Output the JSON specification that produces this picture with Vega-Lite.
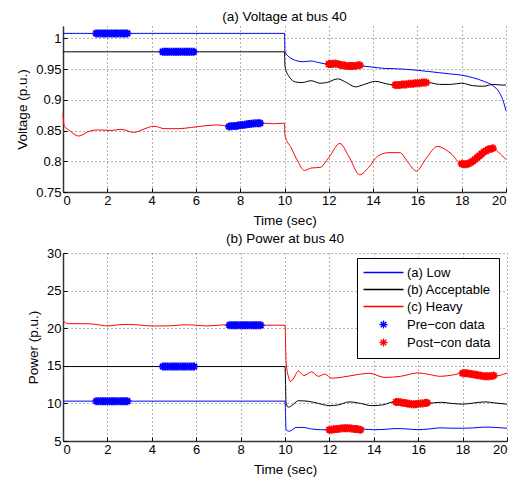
{
  "$schema": "https://vega.github.io/schema/vega-lite/v6.json",
  "padding": {"left": 15, "top": 9, "right": 8, "bottom": 3},
  "spacing": 4,
  "config": {
    "font": "Liberation Sans",
    "view": {"stroke": null},
    "axis": {
      "labelFont": "Liberation Sans", "titleFont": "Liberation Sans",
      "labelFontSize": 13, "titleFontSize": 13.5, "titleFontWeight": "normal",
      "labelColor": "#000", "titleColor": "#000", "domainColor": "#333", "tickColor": "#000",
      "domainWidth": 1.5, "tickSize": -4, "labelPadding": 6, "titlePadding": 6, "labelOverlap": false, "tickCount": 20,
      "gridColor": "#000", "gridDash": [1, 3], "gridOpacity": 0.6
    },
    "title": {"font": "Liberation Sans", "fontSize": 13.5, "fontWeight": "normal", "color": "#000", "offset": 2},
    "legend": {"labelFont": "Liberation Sans", "labelFontSize": 13, "labelColor": "#000"}
  },
  "datasets": {
    "volt": [
      {"t": 0, "v": 1.008, "series": "(a) Low"}, {"t": 10, "v": 1.008, "series": "(a) Low"}, {"t": 10.02, "v": 0.978, "series": "(a) Low"}, {"t": 10.2, "v": 0.970, "series": "(a) Low"}, {"t": 10.5, "v": 0.964, "series": "(a) Low"}, {"t": 10.8, "v": 0.962, "series": "(a) Low"}, {"t": 11.2, "v": 0.963, "series": "(a) Low"}, {"t": 11.6, "v": 0.960, "series": "(a) Low"}, {"t": 12, "v": 0.958, "series": "(a) Low"}, {"t": 12.5, "v": 0.958, "series": "(a) Low"}, {"t": 13, "v": 0.956, "series": "(a) Low"}, {"t": 13.5, "v": 0.955, "series": "(a) Low"}, {"t": 14, "v": 0.953, "series": "(a) Low"}, {"t": 14.5, "v": 0.951, "series": "(a) Low"}, {"t": 15, "v": 0.9505, "series": "(a) Low"}, {"t": 15.5, "v": 0.9495, "series": "(a) Low"}, {"t": 16, "v": 0.948, "series": "(a) Low"}, {"t": 16.5, "v": 0.946, "series": "(a) Low"}, {"t": 17, "v": 0.944, "series": "(a) Low"}, {"t": 17.5, "v": 0.942, "series": "(a) Low"}, {"t": 18, "v": 0.940, "series": "(a) Low"}, {"t": 18.5, "v": 0.936, "series": "(a) Low"}, {"t": 19, "v": 0.930, "series": "(a) Low"}, {"t": 19.4, "v": 0.923, "series": "(a) Low"}, {"t": 19.7, "v": 0.912, "series": "(a) Low"}, {"t": 19.9, "v": 0.895, "series": "(a) Low"}, {"t": 20, "v": 0.882, "series": "(a) Low"},
      {"t": 0, "v": 0.978, "series": "(b) Acceptable"}, {"t": 10, "v": 0.978, "series": "(b) Acceptable"}, {"t": 10.02, "v": 0.955, "series": "(b) Acceptable"}, {"t": 10.2, "v": 0.938, "series": "(b) Acceptable"}, {"t": 10.5, "v": 0.929, "series": "(b) Acceptable"}, {"t": 10.8, "v": 0.928, "series": "(b) Acceptable"}, {"t": 11.2, "v": 0.931, "series": "(b) Acceptable"}, {"t": 11.6, "v": 0.927, "series": "(b) Acceptable"}, {"t": 11.9, "v": 0.928, "series": "(b) Acceptable"}, {"t": 12.4, "v": 0.934, "series": "(b) Acceptable"}, {"t": 12.8, "v": 0.928, "series": "(b) Acceptable"}, {"t": 13.2, "v": 0.921, "series": "(b) Acceptable"}, {"t": 13.6, "v": 0.925, "series": "(b) Acceptable"}, {"t": 14.1, "v": 0.930, "series": "(b) Acceptable"}, {"t": 14.6, "v": 0.926, "series": "(b) Acceptable"}, {"t": 15, "v": 0.924, "series": "(b) Acceptable"}, {"t": 15.5, "v": 0.925, "series": "(b) Acceptable"}, {"t": 16, "v": 0.926, "series": "(b) Acceptable"}, {"t": 16.5, "v": 0.928, "series": "(b) Acceptable"}, {"t": 17, "v": 0.925, "series": "(b) Acceptable"}, {"t": 17.5, "v": 0.925, "series": "(b) Acceptable"}, {"t": 18, "v": 0.927, "series": "(b) Acceptable"}, {"t": 18.5, "v": 0.923, "series": "(b) Acceptable"}, {"t": 19, "v": 0.922, "series": "(b) Acceptable"}, {"t": 19.4, "v": 0.925, "series": "(b) Acceptable"}, {"t": 19.8, "v": 0.924, "series": "(b) Acceptable"}, {"t": 20, "v": 0.924, "series": "(b) Acceptable"},
      {"t": 0, "v": 0.878, "series": "(c) Heavy"}, {"t": 0.05, "v": 0.858, "series": "(c) Heavy"}, {"t": 0.3, "v": 0.850, "series": "(c) Heavy"}, {"t": 0.7, "v": 0.841, "series": "(c) Heavy"}, {"t": 1.2, "v": 0.849, "series": "(c) Heavy"}, {"t": 1.6, "v": 0.851, "series": "(c) Heavy"}, {"t": 2.2, "v": 0.850, "series": "(c) Heavy"}, {"t": 2.6, "v": 0.852, "series": "(c) Heavy"}, {"t": 3.2, "v": 0.847, "series": "(c) Heavy"}, {"t": 3.7, "v": 0.853, "series": "(c) Heavy"}, {"t": 4.1, "v": 0.857, "series": "(c) Heavy"}, {"t": 4.6, "v": 0.853, "series": "(c) Heavy"}, {"t": 5.2, "v": 0.853, "series": "(c) Heavy"}, {"t": 5.8, "v": 0.855, "series": "(c) Heavy"}, {"t": 6.5, "v": 0.858, "series": "(c) Heavy"}, {"t": 7, "v": 0.859, "series": "(c) Heavy"}, {"t": 7.5, "v": 0.857, "series": "(c) Heavy"}, {"t": 8, "v": 0.858, "series": "(c) Heavy"}, {"t": 8.5, "v": 0.861, "series": "(c) Heavy"}, {"t": 9, "v": 0.862, "series": "(c) Heavy"}, {"t": 9.5, "v": 0.861, "series": "(c) Heavy"}, {"t": 10, "v": 0.862, "series": "(c) Heavy"}, {"t": 10.02, "v": 0.842, "series": "(c) Heavy"}, {"t": 10.3, "v": 0.822, "series": "(c) Heavy"}, {"t": 10.6, "v": 0.800, "series": "(c) Heavy"}, {"t": 10.9, "v": 0.785, "series": "(c) Heavy"}, {"t": 11.2, "v": 0.789, "series": "(c) Heavy"}, {"t": 11.6, "v": 0.790, "series": "(c) Heavy"}, {"t": 12, "v": 0.806, "series": "(c) Heavy"}, {"t": 12.5, "v": 0.829, "series": "(c) Heavy"}, {"t": 12.9, "v": 0.808, "series": "(c) Heavy"}, {"t": 13.4, "v": 0.778, "series": "(c) Heavy"}, {"t": 13.8, "v": 0.790, "series": "(c) Heavy"}, {"t": 14.2, "v": 0.808, "series": "(c) Heavy"}, {"t": 14.7, "v": 0.814, "series": "(c) Heavy"}, {"t": 15.2, "v": 0.814, "series": "(c) Heavy"}, {"t": 15.6, "v": 0.797, "series": "(c) Heavy"}, {"t": 15.95, "v": 0.784, "series": "(c) Heavy"}, {"t": 16.4, "v": 0.805, "series": "(c) Heavy"}, {"t": 16.9, "v": 0.824, "series": "(c) Heavy"}, {"t": 17.5, "v": 0.813, "series": "(c) Heavy"}, {"t": 18, "v": 0.796, "series": "(c) Heavy"}, {"t": 18.5, "v": 0.800, "series": "(c) Heavy"}, {"t": 19, "v": 0.815, "series": "(c) Heavy"}, {"t": 19.4, "v": 0.821, "series": "(c) Heavy"}, {"t": 19.8, "v": 0.810, "series": "(c) Heavy"}, {"t": 20, "v": 0.803, "series": "(c) Heavy"}
    ],
    "voltpts": [
      {"t": 1.5, "v": 1.008, "series": "Pre−con data"}, {"t": 1.6, "v": 1.008, "series": "Pre−con data"}, {"t": 1.7, "v": 1.008, "series": "Pre−con data"}, {"t": 1.8, "v": 1.008, "series": "Pre−con data"}, {"t": 1.9, "v": 1.008, "series": "Pre−con data"}, {"t": 2.0, "v": 1.008, "series": "Pre−con data"}, {"t": 2.1, "v": 1.008, "series": "Pre−con data"}, {"t": 2.2, "v": 1.008, "series": "Pre−con data"}, {"t": 2.3, "v": 1.008, "series": "Pre−con data"}, {"t": 2.4, "v": 1.008, "series": "Pre−con data"}, {"t": 2.5, "v": 1.008, "series": "Pre−con data"}, {"t": 2.6, "v": 1.008, "series": "Pre−con data"}, {"t": 2.7, "v": 1.008, "series": "Pre−con data"}, {"t": 2.8, "v": 1.008, "series": "Pre−con data"}, {"t": 2.9, "v": 1.008, "series": "Pre−con data"},
      {"t": 4.5, "v": 0.978, "series": "Pre−con data"}, {"t": 4.6, "v": 0.978, "series": "Pre−con data"}, {"t": 4.7, "v": 0.978, "series": "Pre−con data"}, {"t": 4.8, "v": 0.978, "series": "Pre−con data"}, {"t": 4.9, "v": 0.978, "series": "Pre−con data"}, {"t": 5.0, "v": 0.978, "series": "Pre−con data"}, {"t": 5.1, "v": 0.978, "series": "Pre−con data"}, {"t": 5.2, "v": 0.978, "series": "Pre−con data"}, {"t": 5.3, "v": 0.978, "series": "Pre−con data"}, {"t": 5.4, "v": 0.978, "series": "Pre−con data"}, {"t": 5.5, "v": 0.978, "series": "Pre−con data"}, {"t": 5.6, "v": 0.978, "series": "Pre−con data"}, {"t": 5.7, "v": 0.978, "series": "Pre−con data"}, {"t": 5.8, "v": 0.978, "series": "Pre−con data"}, {"t": 5.9, "v": 0.978, "series": "Pre−con data"},
      {"t": 7.5, "v": 0.8565, "series": "Pre−con data"}, {"t": 7.6, "v": 0.857, "series": "Pre−con data"}, {"t": 7.7, "v": 0.8572, "series": "Pre−con data"}, {"t": 7.8, "v": 0.8575, "series": "Pre−con data"}, {"t": 7.9, "v": 0.858, "series": "Pre−con data"}, {"t": 8.0, "v": 0.8585, "series": "Pre−con data"}, {"t": 8.1, "v": 0.859, "series": "Pre−con data"}, {"t": 8.2, "v": 0.8595, "series": "Pre−con data"}, {"t": 8.3, "v": 0.860, "series": "Pre−con data"}, {"t": 8.4, "v": 0.8605, "series": "Pre−con data"}, {"t": 8.5, "v": 0.861, "series": "Pre−con data"}, {"t": 8.6, "v": 0.8615, "series": "Pre−con data"}, {"t": 8.7, "v": 0.862, "series": "Pre−con data"}, {"t": 8.8, "v": 0.862, "series": "Pre−con data"}, {"t": 8.9, "v": 0.862, "series": "Pre−con data"},
      {"t": 12.0, "v": 0.958, "series": "Post−con data"}, {"t": 12.1, "v": 0.958, "series": "Post−con data"}, {"t": 12.2, "v": 0.9585, "series": "Post−con data"}, {"t": 12.3, "v": 0.959, "series": "Post−con data"}, {"t": 12.4, "v": 0.958, "series": "Post−con data"}, {"t": 12.5, "v": 0.957, "series": "Post−con data"}, {"t": 12.6, "v": 0.956, "series": "Post−con data"}, {"t": 12.7, "v": 0.956, "series": "Post−con data"}, {"t": 12.8, "v": 0.955, "series": "Post−con data"}, {"t": 12.9, "v": 0.955, "series": "Post−con data"}, {"t": 13.0, "v": 0.955, "series": "Post−con data"}, {"t": 13.1, "v": 0.955, "series": "Post−con data"}, {"t": 13.2, "v": 0.955, "series": "Post−con data"}, {"t": 13.3, "v": 0.956, "series": "Post−con data"}, {"t": 13.4, "v": 0.956, "series": "Post−con data"},
      {"t": 15.0, "v": 0.924, "series": "Post−con data"}, {"t": 15.1, "v": 0.924, "series": "Post−con data"}, {"t": 15.2, "v": 0.924, "series": "Post−con data"}, {"t": 15.3, "v": 0.925, "series": "Post−con data"}, {"t": 15.4, "v": 0.925, "series": "Post−con data"}, {"t": 15.5, "v": 0.925, "series": "Post−con data"}, {"t": 15.6, "v": 0.926, "series": "Post−con data"}, {"t": 15.7, "v": 0.926, "series": "Post−con data"}, {"t": 15.8, "v": 0.926, "series": "Post−con data"}, {"t": 15.9, "v": 0.927, "series": "Post−con data"}, {"t": 16.0, "v": 0.927, "series": "Post−con data"}, {"t": 16.1, "v": 0.927, "series": "Post−con data"}, {"t": 16.2, "v": 0.928, "series": "Post−con data"}, {"t": 16.3, "v": 0.928, "series": "Post−con data"}, {"t": 16.4, "v": 0.928, "series": "Post−con data"},
      {"t": 18.0, "v": 0.796, "series": "Post−con data"}, {"t": 18.1, "v": 0.795, "series": "Post−con data"}, {"t": 18.2, "v": 0.795, "series": "Post−con data"}, {"t": 18.3, "v": 0.796, "series": "Post−con data"}, {"t": 18.4, "v": 0.798, "series": "Post−con data"}, {"t": 18.5, "v": 0.800, "series": "Post−con data"}, {"t": 18.6, "v": 0.803, "series": "Post−con data"}, {"t": 18.7, "v": 0.806, "series": "Post−con data"}, {"t": 18.8, "v": 0.809, "series": "Post−con data"}, {"t": 18.9, "v": 0.812, "series": "Post−con data"}, {"t": 19.0, "v": 0.815, "series": "Post−con data"}, {"t": 19.1, "v": 0.817, "series": "Post−con data"}, {"t": 19.2, "v": 0.819, "series": "Post−con data"}, {"t": 19.3, "v": 0.820, "series": "Post−con data"}, {"t": 19.4, "v": 0.821, "series": "Post−con data"}
    ],
    "pow": [
      {"t": 0, "p": 10.3, "series": "(a) Low"}, {"t": 10, "p": 10.3, "series": "(a) Low"}, {"t": 10.05, "p": 6.5, "series": "(a) Low"}, {"t": 10.2, "p": 6.3, "series": "(a) Low"}, {"t": 10.5, "p": 6.8, "series": "(a) Low"}, {"t": 10.8, "p": 6.8, "series": "(a) Low"}, {"t": 11.2, "p": 6.6, "series": "(a) Low"}, {"t": 11.6, "p": 6.5, "series": "(a) Low"}, {"t": 12, "p": 6.5, "series": "(a) Low"}, {"t": 12.5, "p": 6.6, "series": "(a) Low"}, {"t": 13, "p": 6.7, "series": "(a) Low"}, {"t": 13.5, "p": 6.6, "series": "(a) Low"}, {"t": 14, "p": 6.5, "series": "(a) Low"}, {"t": 14.5, "p": 6.55, "series": "(a) Low"}, {"t": 15, "p": 6.65, "series": "(a) Low"}, {"t": 15.5, "p": 6.6, "series": "(a) Low"}, {"t": 16, "p": 6.5, "series": "(a) Low"}, {"t": 16.5, "p": 6.6, "series": "(a) Low"}, {"t": 17, "p": 6.75, "series": "(a) Low"}, {"t": 17.5, "p": 6.7, "series": "(a) Low"}, {"t": 18, "p": 6.7, "series": "(a) Low"}, {"t": 18.5, "p": 6.75, "series": "(a) Low"}, {"t": 19, "p": 6.85, "series": "(a) Low"}, {"t": 19.5, "p": 6.8, "series": "(a) Low"}, {"t": 20, "p": 6.7, "series": "(a) Low"},
      {"t": 0, "p": 14.9, "series": "(b) Acceptable"}, {"t": 10, "p": 14.9, "series": "(b) Acceptable"}, {"t": 10.05, "p": 10.0, "series": "(b) Acceptable"}, {"t": 10.15, "p": 9.5, "series": "(b) Acceptable"}, {"t": 10.3, "p": 9.7, "series": "(b) Acceptable"}, {"t": 10.6, "p": 10.35, "series": "(b) Acceptable"}, {"t": 11, "p": 10.3, "series": "(b) Acceptable"}, {"t": 11.5, "p": 10.0, "series": "(b) Acceptable"}, {"t": 12, "p": 9.7, "series": "(b) Acceptable"}, {"t": 12.4, "p": 9.8, "series": "(b) Acceptable"}, {"t": 12.9, "p": 10.2, "series": "(b) Acceptable"}, {"t": 13.4, "p": 10.0, "series": "(b) Acceptable"}, {"t": 13.9, "p": 9.7, "series": "(b) Acceptable"}, {"t": 14.4, "p": 9.8, "series": "(b) Acceptable"}, {"t": 14.9, "p": 10.2, "series": "(b) Acceptable"}, {"t": 15.5, "p": 10.0, "series": "(b) Acceptable"}, {"t": 16, "p": 9.85, "series": "(b) Acceptable"}, {"t": 16.5, "p": 10.0, "series": "(b) Acceptable"}, {"t": 17, "p": 10.15, "series": "(b) Acceptable"}, {"t": 17.5, "p": 10.0, "series": "(b) Acceptable"}, {"t": 18, "p": 9.9, "series": "(b) Acceptable"}, {"t": 18.5, "p": 10.05, "series": "(b) Acceptable"}, {"t": 19, "p": 10.2, "series": "(b) Acceptable"}, {"t": 19.5, "p": 10.05, "series": "(b) Acceptable"}, {"t": 20, "p": 9.9, "series": "(b) Acceptable"},
      {"t": 0, "p": 21.2, "series": "(c) Heavy"}, {"t": 0.1, "p": 20.7, "series": "(c) Heavy"}, {"t": 0.3, "p": 20.6, "series": "(c) Heavy"}, {"t": 1, "p": 20.6, "series": "(c) Heavy"}, {"t": 1.5, "p": 20.5, "series": "(c) Heavy"}, {"t": 2, "p": 20.3, "series": "(c) Heavy"}, {"t": 2.5, "p": 20.45, "series": "(c) Heavy"}, {"t": 3, "p": 20.5, "series": "(c) Heavy"}, {"t": 3.5, "p": 20.4, "series": "(c) Heavy"}, {"t": 4, "p": 20.3, "series": "(c) Heavy"}, {"t": 4.5, "p": 20.3, "series": "(c) Heavy"}, {"t": 5, "p": 20.35, "series": "(c) Heavy"}, {"t": 5.5, "p": 20.45, "series": "(c) Heavy"}, {"t": 6, "p": 20.4, "series": "(c) Heavy"}, {"t": 6.5, "p": 20.3, "series": "(c) Heavy"}, {"t": 7, "p": 20.4, "series": "(c) Heavy"}, {"t": 7.5, "p": 20.45, "series": "(c) Heavy"}, {"t": 8.5, "p": 20.4, "series": "(c) Heavy"}, {"t": 9, "p": 20.4, "series": "(c) Heavy"}, {"t": 10, "p": 20.4, "series": "(c) Heavy"}, {"t": 10.05, "p": 15.5, "series": "(c) Heavy"}, {"t": 10.15, "p": 13.6, "series": "(c) Heavy"}, {"t": 10.25, "p": 12.9, "series": "(c) Heavy"}, {"t": 10.4, "p": 13.4, "series": "(c) Heavy"}, {"t": 10.6, "p": 14.3, "series": "(c) Heavy"}, {"t": 10.85, "p": 13.7, "series": "(c) Heavy"}, {"t": 11.2, "p": 14.2, "series": "(c) Heavy"}, {"t": 11.5, "p": 13.6, "series": "(c) Heavy"}, {"t": 11.8, "p": 13.9, "series": "(c) Heavy"}, {"t": 12.1, "p": 13.35, "series": "(c) Heavy"}, {"t": 12.6, "p": 13.5, "series": "(c) Heavy"}, {"t": 13.2, "p": 13.8, "series": "(c) Heavy"}, {"t": 13.8, "p": 14.0, "series": "(c) Heavy"}, {"t": 14.5, "p": 13.45, "series": "(c) Heavy"}, {"t": 15.2, "p": 13.6, "series": "(c) Heavy"}, {"t": 16, "p": 14.05, "series": "(c) Heavy"}, {"t": 16.5, "p": 13.85, "series": "(c) Heavy"}, {"t": 17, "p": 13.6, "series": "(c) Heavy"}, {"t": 17.5, "p": 13.75, "series": "(c) Heavy"}, {"t": 18, "p": 14.0, "series": "(c) Heavy"}, {"t": 18.7, "p": 13.8, "series": "(c) Heavy"}, {"t": 19.4, "p": 13.6, "series": "(c) Heavy"}, {"t": 20, "p": 14.05, "series": "(c) Heavy"}
    ],
    "powpts": [
      {"t": 1.5, "p": 10.3, "series": "Pre−con data"}, {"t": 1.6, "p": 10.3, "series": "Pre−con data"}, {"t": 1.7, "p": 10.3, "series": "Pre−con data"}, {"t": 1.8, "p": 10.3, "series": "Pre−con data"}, {"t": 1.9, "p": 10.3, "series": "Pre−con data"}, {"t": 2.0, "p": 10.3, "series": "Pre−con data"}, {"t": 2.1, "p": 10.3, "series": "Pre−con data"}, {"t": 2.2, "p": 10.3, "series": "Pre−con data"}, {"t": 2.3, "p": 10.3, "series": "Pre−con data"}, {"t": 2.4, "p": 10.3, "series": "Pre−con data"}, {"t": 2.5, "p": 10.3, "series": "Pre−con data"}, {"t": 2.6, "p": 10.3, "series": "Pre−con data"}, {"t": 2.7, "p": 10.3, "series": "Pre−con data"}, {"t": 2.8, "p": 10.3, "series": "Pre−con data"}, {"t": 2.9, "p": 10.3, "series": "Pre−con data"},
      {"t": 4.5, "p": 14.9, "series": "Pre−con data"}, {"t": 4.6, "p": 14.9, "series": "Pre−con data"}, {"t": 4.7, "p": 14.9, "series": "Pre−con data"}, {"t": 4.8, "p": 14.9, "series": "Pre−con data"}, {"t": 4.9, "p": 14.9, "series": "Pre−con data"}, {"t": 5.0, "p": 14.9, "series": "Pre−con data"}, {"t": 5.1, "p": 14.9, "series": "Pre−con data"}, {"t": 5.2, "p": 14.9, "series": "Pre−con data"}, {"t": 5.3, "p": 14.9, "series": "Pre−con data"}, {"t": 5.4, "p": 14.9, "series": "Pre−con data"}, {"t": 5.5, "p": 14.9, "series": "Pre−con data"}, {"t": 5.6, "p": 14.9, "series": "Pre−con data"}, {"t": 5.7, "p": 14.9, "series": "Pre−con data"}, {"t": 5.8, "p": 14.9, "series": "Pre−con data"}, {"t": 5.9, "p": 14.9, "series": "Pre−con data"},
      {"t": 7.5, "p": 20.4, "series": "Pre−con data"}, {"t": 7.6, "p": 20.4, "series": "Pre−con data"}, {"t": 7.7, "p": 20.4, "series": "Pre−con data"}, {"t": 7.8, "p": 20.4, "series": "Pre−con data"}, {"t": 7.9, "p": 20.4, "series": "Pre−con data"}, {"t": 8.0, "p": 20.4, "series": "Pre−con data"}, {"t": 8.1, "p": 20.4, "series": "Pre−con data"}, {"t": 8.2, "p": 20.4, "series": "Pre−con data"}, {"t": 8.3, "p": 20.4, "series": "Pre−con data"}, {"t": 8.4, "p": 20.4, "series": "Pre−con data"}, {"t": 8.5, "p": 20.4, "series": "Pre−con data"}, {"t": 8.6, "p": 20.4, "series": "Pre−con data"}, {"t": 8.7, "p": 20.4, "series": "Pre−con data"}, {"t": 8.8, "p": 20.4, "series": "Pre−con data"}, {"t": 8.9, "p": 20.4, "series": "Pre−con data"},
      {"t": 12.0, "p": 6.5, "series": "Post−con data"}, {"t": 12.1, "p": 6.5, "series": "Post−con data"}, {"t": 12.2, "p": 6.55, "series": "Post−con data"}, {"t": 12.3, "p": 6.6, "series": "Post−con data"}, {"t": 12.4, "p": 6.6, "series": "Post−con data"}, {"t": 12.5, "p": 6.65, "series": "Post−con data"}, {"t": 12.6, "p": 6.7, "series": "Post−con data"}, {"t": 12.7, "p": 6.7, "series": "Post−con data"}, {"t": 12.8, "p": 6.7, "series": "Post−con data"}, {"t": 12.9, "p": 6.7, "series": "Post−con data"}, {"t": 13.0, "p": 6.65, "series": "Post−con data"}, {"t": 13.1, "p": 6.6, "series": "Post−con data"}, {"t": 13.2, "p": 6.6, "series": "Post−con data"}, {"t": 13.3, "p": 6.55, "series": "Post−con data"}, {"t": 13.4, "p": 6.5, "series": "Post−con data"},
      {"t": 15.0, "p": 10.2, "series": "Post−con data"}, {"t": 15.1, "p": 10.2, "series": "Post−con data"}, {"t": 15.2, "p": 10.15, "series": "Post−con data"}, {"t": 15.3, "p": 10.1, "series": "Post−con data"}, {"t": 15.4, "p": 10.05, "series": "Post−con data"}, {"t": 15.5, "p": 10.0, "series": "Post−con data"}, {"t": 15.6, "p": 9.95, "series": "Post−con data"}, {"t": 15.7, "p": 9.9, "series": "Post−con data"}, {"t": 15.8, "p": 9.9, "series": "Post−con data"}, {"t": 15.9, "p": 9.9, "series": "Post−con data"}, {"t": 16.0, "p": 9.95, "series": "Post−con data"}, {"t": 16.1, "p": 10.0, "series": "Post−con data"}, {"t": 16.2, "p": 10.0, "series": "Post−con data"}, {"t": 16.3, "p": 10.05, "series": "Post−con data"}, {"t": 16.4, "p": 10.1, "series": "Post−con data"},
      {"t": 18.0, "p": 14.0, "series": "Post−con data"}, {"t": 18.1, "p": 14.0, "series": "Post−con data"}, {"t": 18.2, "p": 14.0, "series": "Post−con data"}, {"t": 18.3, "p": 13.95, "series": "Post−con data"}, {"t": 18.4, "p": 13.9, "series": "Post−con data"}, {"t": 18.5, "p": 13.85, "series": "Post−con data"}, {"t": 18.6, "p": 13.8, "series": "Post−con data"}, {"t": 18.7, "p": 13.75, "series": "Post−con data"}, {"t": 18.8, "p": 13.7, "series": "Post−con data"}, {"t": 18.9, "p": 13.65, "series": "Post−con data"}, {"t": 19.0, "p": 13.6, "series": "Post−con data"}, {"t": 19.1, "p": 13.6, "series": "Post−con data"}, {"t": 19.2, "p": 13.6, "series": "Post−con data"}, {"t": 19.3, "p": 13.65, "series": "Post−con data"}, {"t": 19.4, "p": 13.7, "series": "Post−con data"}
    ]
  },
  "vconcat": [
    {
      "title": "(a) Voltage at bus 40",
      "width": 443,
      "height": 166,
      "layer": [
        {
          "data": {"name": "volt"},
          "mark": {"type": "line", "strokeWidth": 1, "interpolate": "monotone"},
          "encoding": {
            "x": {"field": "t", "type": "quantitative", "title": "Time (sec)", "scale": {"domain": [0, 20], "nice": false}, "axis": {"values": [0, 2, 4, 6, 8, 10, 12, 14, 16, 18, 20], "tickCount": 20, "labelOverlap": false}},
            "y": {"field": "v", "type": "quantitative", "title": "Voltage (p.u.)", "scale": {"domain": [0.75, 1.02], "nice": false, "zero": false}, "axis": {"values": [0.75, 0.8, 0.85, 0.9, 0.95, 1], "format": "~g", "tickCount": 20, "labelOverlap": false}},
            "color": {"field": "series", "type": "nominal", "legend": null, "scale": {"domain": ["(a) Low", "(b) Acceptable", "(c) Heavy", "Pre−con data", "Post−con data"], "range": ["#0000ff", "#000000", "#ff0000", "#0000ff", "#ff0000"]}},
            "detail": {"field": "series"}
          }
        },
        {
          "data": {"name": "voltpts"},
          "mark": {"type": "point", "filled": false, "size": 100, "strokeWidth": 2, "opacity": 1, "shape": "M-0.8,0L0.8,0M0,-0.8L0,0.8M-0.56,-0.56L0.56,0.56M-0.56,0.56L0.56,-0.56"},
          "encoding": {
            "x": {"field": "t", "type": "quantitative"},
            "y": {"field": "v", "type": "quantitative"},
            "color": {"field": "series", "type": "nominal", "legend": null}
          }
        }
      ]
    },
    {
      "title": "(b) Power at bus 40",
      "width": 444,
      "height": 188,
      "layer": [
        {
          "data": {"name": "pow"},
          "mark": {"type": "line", "strokeWidth": 1, "interpolate": "monotone"},
          "encoding": {
            "x": {"field": "t", "type": "quantitative", "title": "Time (sec)", "scale": {"domain": [0, 20], "nice": false}, "axis": {"values": [0, 2, 4, 6, 8, 10, 12, 14, 16, 18, 20], "tickCount": 20, "labelOverlap": false}},
            "y": {"field": "p", "type": "quantitative", "title": "Power (p.u.)", "scale": {"domain": [5, 30], "nice": false, "zero": false}, "axis": {"values": [5, 10, 15, 20, 25, 30], "tickCount": 20, "labelOverlap": false}},
            "color": {"field": "series", "type": "nominal", "title": null, "scale": {"domain": ["(a) Low", "(b) Acceptable", "(c) Heavy", "Pre−con data", "Post−con data"], "range": ["#0000ff", "#000000", "#ff0000", "#0000ff", "#ff0000"]},
              "legend": {"orient": "none", "legendX": 294, "legendY": 5, "strokeColor": "#000", "fillColor": "#fff", "padding": 8, "symbolSize": 100, "symbolStrokeWidth": 1.2, "symbolOffset": 12, "labelOffset": 17, "labelFontSize": 13, "rowPadding": 3, "cornerRadius": 0,
                "encode": {"symbols": {"update": {"shape": {"signal": "indexof(datum.value, 'data') >= 0 ? 'M-0.8,0L0.8,0M0,-0.8L0,0.8M-0.56,-0.56L0.56,0.56M-0.56,0.56L0.56,-0.56' : 'M-4,0L4,0'"}, "fill": {"value": "transparent"}, "strokeWidth": {"value": 1.3}}}}}},
            "detail": {"field": "series"}
          }
        },
        {
          "data": {"name": "powpts"},
          "mark": {"type": "point", "filled": false, "size": 100, "strokeWidth": 2, "opacity": 1, "shape": "M-0.8,0L0.8,0M0,-0.8L0,0.8M-0.56,-0.56L0.56,0.56M-0.56,0.56L0.56,-0.56"},
          "encoding": {
            "x": {"field": "t", "type": "quantitative"},
            "y": {"field": "p", "type": "quantitative"},
            "color": {"field": "series", "type": "nominal", "title": null}
          }
        }
      ]
    }
  ],
  "resolve": {"scale": {"color": "independent"}, "legend": {"color": "independent"}}
}
